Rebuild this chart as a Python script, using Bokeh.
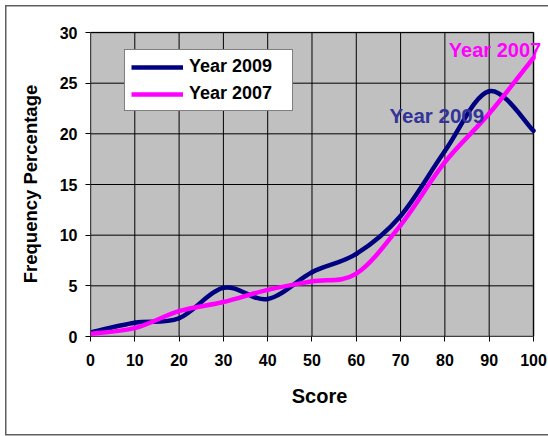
from bokeh.plotting import figure
from bokeh.models import Range1d, Legend, LegendItem, Label, FixedTicker
from bokeh.embed import file_html
from bokeh.resources import INLINE

# Score bins and frequency percentages for each year
scores = [0, 10, 20, 30, 40, 50, 60, 70, 80, 90, 100]
freq_2009 = [0.4, 1.35, 1.8, 4.8, 3.7, 6.35, 8.15, 11.9, 18.3, 24.2, 20.3]
freq_2007 = [0.27, 0.82, 2.5, 3.4, 4.6, 5.45, 6.2, 11.0, 17.2, 22.0, 27.5]

x_ticks = [0, 10, 20, 30, 40, 50, 60, 70, 80, 90, 100]
y_ticks = [0, 5, 10, 15, 20, 25, 30]

FONT = "Liberation Sans"
NAVY = "#000080"
MAGENTA = "#FF00FF"
FRAME_GRAY = "#606060"


def smooth_segments(xs, ys):
    """Cubic Bezier segments through the points (smoothed-line style)."""
    n = len(xs)
    seg = dict(x0=[], y0=[], x1=[], y1=[], cx0=[], cy0=[], cx1=[], cy1=[])
    for i in range(n - 1):
        xp, yp = (xs[i - 1], ys[i - 1]) if i > 0 else (xs[i], ys[i])
        xn, yn = (xs[i + 2], ys[i + 2]) if i + 2 < n else (xs[i + 1], ys[i + 1])
        seg["x0"].append(xs[i]); seg["y0"].append(ys[i])
        seg["x1"].append(xs[i + 1]); seg["y1"].append(ys[i + 1])
        seg["cx0"].append(xs[i] + (xs[i + 1] - xp) / 6)
        seg["cy0"].append(ys[i] + (ys[i + 1] - yp) / 6)
        seg["cx1"].append(xs[i + 1] - (xn - xs[i]) / 6)
        seg["cy1"].append(ys[i + 1] - (yn - ys[i]) / 6)
    return seg


x_lo, x_hi = x_ticks[0], x_ticks[-1]
y_lo, y_hi = y_ticks[0], y_ticks[-1]

# The frame runs to the right edge so the series name can overhang the plot area
p = figure(width=548, height=436, output_backend="svg", toolbar_location=None,
           x_range=Range1d(x_lo, 103.39), y_range=Range1d(y_lo, 30.1),
           min_border_left=90, min_border_right=0,
           min_border_top=31, min_border_bottom=100)

p.background_fill_alpha = 0
p.border_fill_alpha = 0
p.outline_line_color = None
p.xgrid.visible = False
p.ygrid.visible = False

# Chart-area border (left, top and bottom edges) drawn behind the canvas
p.styles = {
    "background-color": "white",
    "background-image": ", ".join([f"linear-gradient({FRAME_GRAY}, {FRAME_GRAY})"] * 3),
    "background-size": "1.5px 430px, 560px 1.5px, 560px 1.5px",
    "background-position": "5px 5px, 5px 5px, 5px 433.5px",
    "background-repeat": "no-repeat",
}

# Plot area
p.quad(left=x_lo, right=x_hi, bottom=y_lo, top=y_hi,
       fill_color="#C0C0C0", line_color="#808080", line_width=2, level="image")

# Grid lines
p.segment(x0=x_ticks, x1=x_ticks, y0=[y_lo] * len(x_ticks), y1=[y_hi] * len(x_ticks),
          line_color="black", line_width=1, level="underlay")
p.segment(x0=[x_lo] * len(y_ticks), x1=[x_hi] * len(y_ticks), y0=y_ticks, y1=y_ticks,
          line_color="black", line_width=1, level="underlay")

p.xaxis.ticker = FixedTicker(ticks=x_ticks)
p.yaxis.ticker = FixedTicker(ticks=y_ticks)
p.xaxis.bounds = (x_lo, x_hi)
p.yaxis.bounds = (y_lo, y_hi)

# Axes
for ax in (p.xaxis, p.yaxis):
    ax.axis_line_color = "#404040"
    ax.axis_line_width = 1
    ax.major_tick_line_color = "black"
    ax.major_tick_out = 5
    ax.major_tick_in = 0
    ax.minor_tick_line_color = None
    ax.major_label_text_font = FONT
    ax.major_label_text_font_style = "bold"
    ax.major_label_text_font_size = "16px"
    ax.major_label_text_color = "black"
    ax.axis_label_text_font = FONT
    ax.axis_label_text_font_style = "bold"
    ax.axis_label_text_color = "black"

p.xaxis.axis_label = "Score"
p.xaxis.axis_label_text_font_size = "20px"
p.xaxis.major_label_standoff = 12
p.xaxis.axis_label_standoff = 16
p.yaxis.axis_label = "Frequency Percentage"
p.yaxis.axis_label_text_font_size = "18.5px"
p.yaxis.major_label_standoff = 8
p.yaxis.axis_label_standoff = 16

# Smoothed series lines
s09 = smooth_segments(scores, freq_2009)
s07 = smooth_segments(scores, freq_2007)
p.bezier(source=s09, x0="x0", y0="y0", x1="x1", y1="y1",
         cx0="cx0", cy0="cy0", cx1="cx1", cy1="cy1",
         line_color=NAVY, line_width=4.5, line_cap="round")
p.bezier(source=s07, x0="x0", y0="y0", x1="x1", y1="y1",
         cx0="cx0", cy0="cy0", cx1="cx1", cy1="cy1",
         line_color=MAGENTA, line_width=4.5, line_cap="round")

# Legend entries (single-point lines: only their legend swatch shows)
leg09 = p.line(x=scores[:1], y=freq_2009[:1], line_color=NAVY, line_width=4.5)
leg07 = p.line(x=scores[:1], y=freq_2007[:1], line_color=MAGENTA, line_width=4.5)
legend = Legend(items=[LegendItem(label="Year 2009", renderers=[leg09]),
                       LegendItem(label="Year 2007", renderers=[leg07])],
                location=(34, 225))
legend.label_text_font = FONT
legend.label_text_font_style = "bold"
legend.label_text_font_size = "18px"
legend.label_text_color = "black"
legend.glyph_width = 52
legend.glyph_height = 20
legend.label_height = 20
legend.label_width = 97
legend.label_standoff = 6
legend.padding = 6
legend.spacing = 6
legend.margin = 0
legend.border_line_color = "black"
legend.border_line_width = 1
legend.background_fill_color = "white"
legend.background_fill_alpha = 1
p.add_layout(legend, "center")

# Series name labels on the chart
p.add_layout(Label(x=67.5, y=20.7, text="Year 2009", text_color="#333399",
                   text_font=FONT, text_font_style="bold", text_font_size="20.5px"))
p.add_layout(Label(x=80.9, y=27.2, text="Year 2007", text_color=MAGENTA,
                   text_font=FONT, text_font_style="bold", text_font_size="20px"))

open("out.html", "w").write(file_html(p, INLINE))
